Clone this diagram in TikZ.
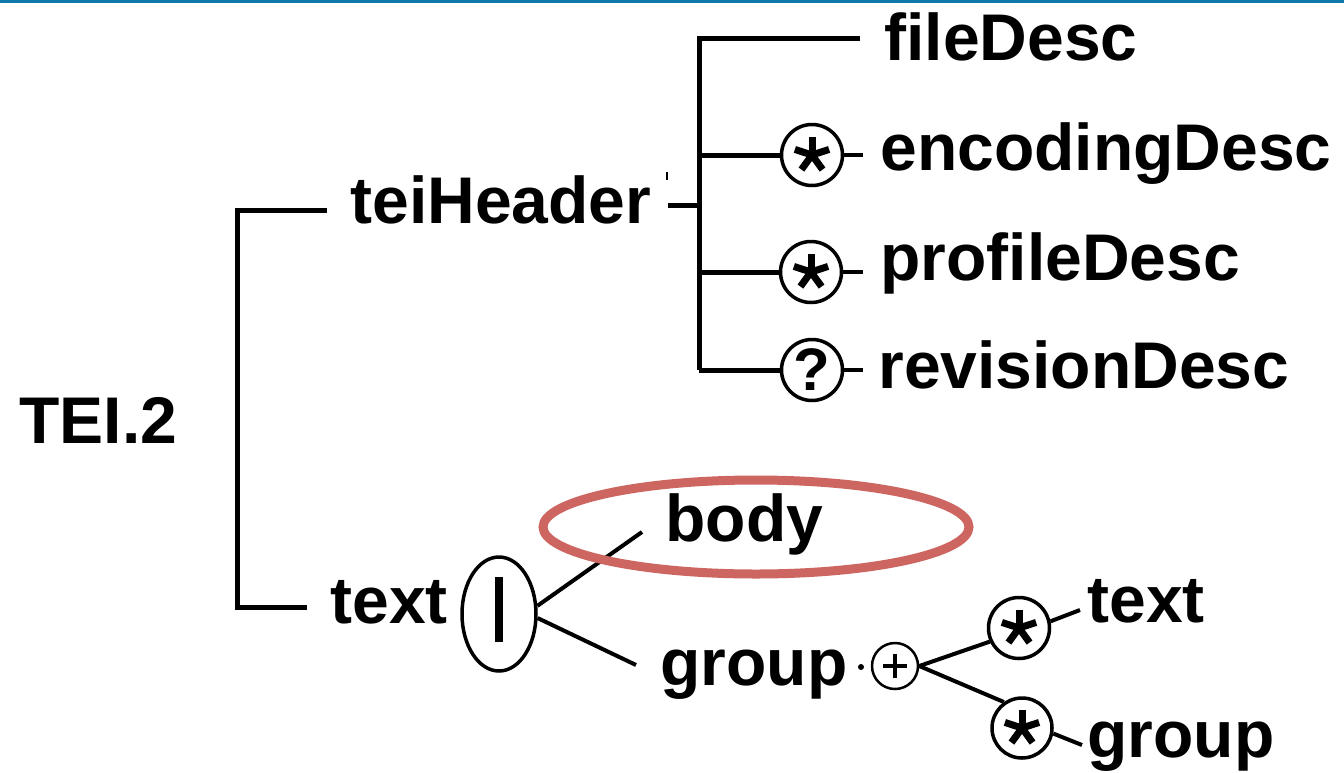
\documentclass[tikz,border=0pt]{standalone}
\usepackage{fontspec}
\setmainfont{Liberation Sans}
\usetikzlibrary{shapes.geometric}
\definecolor{topblue}{RGB}{16,123,171}
\definecolor{hilite}{RGB}{205,102,96}
\newcommand\astk[1]{\foreach \a in {270,342,54,126,198}{\draw[line width=7pt] (#1.center) -- ++(\a:18);}}
\begin{document}
\begin{tikzpicture}[x=1pt,y=-1pt,line width=5pt,
  lbl/.style={font=\fontsize{66}{70}\selectfont\bfseries,inner sep=0pt,anchor=base west},
  opt/.style={circle,draw,line width=3.5pt,minimum size=61pt,inner sep=0pt},
  thin/.style={line width=4pt}]
\useasboundingbox (0,0) rectangle (1344,772);
\fill[white] (0,0) rectangle (1344,772);
\fill[topblue] (0,0) rectangle (1344,3);

% labels
\node[lbl] (tei) at (17,443) {TEI.2};
\node[lbl] (hdr) at (348,223) {teiHeader};
\node[lbl] (txt) at (328,623) {text};
\node[lbl] (fd) at (882,60) {fileDesc};
\node[lbl] (ed) at (878,170) {encodingDesc};
\node[lbl] (pd) at (878,280) {profileDesc};
\node[lbl] (rd) at (876,388) {revisionDesc};
\node[lbl] (body) at (663,541) {body};
\node[lbl] (grp) at (658,685) {group};
\node[lbl] (txt2) at (1085,622) {text};
\node[lbl] (grp2) at (1085,757) {group};

% left bracket
\coordinate (b1) at (237,210);
\coordinate (b1e) at (327,210);
\coordinate (b2) at (237,607);
\coordinate (b2e) at (307,607);
\draw (b1e) -- (b1) -- (b2) -- (b2e);

% teiHeader children
\coordinate (hs) at (668,205);
\coordinate (j0) at (699,38);
\coordinate (j0e) at (860,38);
\coordinate (jh) at (699,205);
\coordinate (j1) at (699,155);
\coordinate (j2) at (699,272);
\coordinate (j3) at (699,370);
\draw (j0e) -- (j0) -- (j3);
\draw (hs) -- (jh);
\draw[line width=2pt] (667,172) -- (667,180);
\node[opt] (c1) at (812,155) {};
\node[opt] (c2) at (811,272) {};
\node[opt] (c3) at (812,370) {};
\draw (j1) -- (c1);
\draw (j2) -- (c2);
\draw (j3) -- (c3);
\astk{c1}
\astk{c2}
\node[font=\fontsize{60}{60}\selectfont\bfseries,inner sep=0pt] at (c3.center) {?};
\draw[thin] (c1.east) -- ([xshift=-15pt]c1.east -| ed.west);
\draw[thin] (c2.east) -- ([xshift=-15pt]c2.east -| pd.west);
\draw[thin] (c3.east) -- ([xshift=-13pt]c3.east -| rd.west);

% text choice
\node[ellipse,draw,line width=3.5pt,minimum width=74pt,minimum height=114pt,inner sep=0pt] (alt) at (499,614) {};
\draw[line width=8pt] (499,577) -- (499,642);
\draw[thin] (alt.12) -- ([xshift=-21pt,yshift=9pt]body.base west);
\draw[thin] (alt.-6) -- ([xshift=-22pt,yshift=20pt]grp.base west);

% highlight
\node[ellipse,draw=hilite,line width=9pt,minimum width=426pt,minimum height=94pt,inner sep=0pt] (hl) at (756,527) {};

% group content
\fill (861,667) circle (3);
\node[circle,draw,line width=2.5pt,minimum size=46pt,inner sep=0pt] (pc) at (895,666) {};
\draw[line width=4pt] ([xshift=-12pt]pc.center) -- ([xshift=12pt]pc.center);
\draw[line width=4pt] ([yshift=-12pt]pc.center) -- ([yshift=12pt]pc.center);
\node[opt] (ts) at (1019,628) {};
\node[opt,minimum size=60pt] (gs) at (1022,728) {};
\astk{ts}
\astk{gs}
\draw[thin] (pc.east) -- (ts.205);
\draw[thin] (pc.east) -- (gs.125);
\draw[thin] (ts.12) -- ([xshift=-5pt,yshift=12pt]txt2.base west);
\draw[thin] (gs.-10) -- ([xshift=-3pt,yshift=12pt]grp2.base west);
\end{tikzpicture}
\end{document}
